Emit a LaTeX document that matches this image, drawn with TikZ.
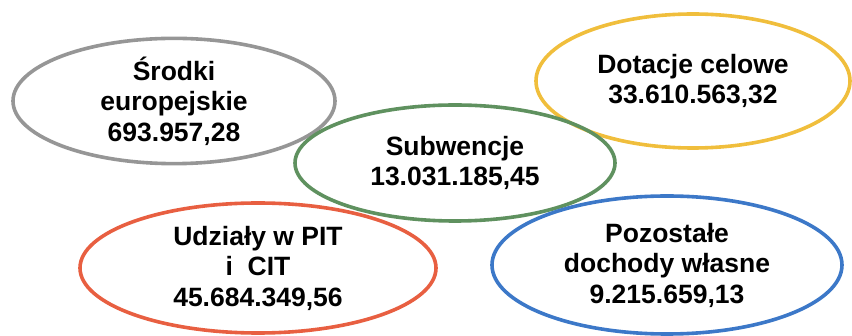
\documentclass[tikz,border=0pt]{standalone}
\usepackage{fontspec}
\setmainfont{Liberation Sans}
\usetikzlibrary{shapes.geometric}
\definecolor{srodkigray}{RGB}{150,150,150}
\definecolor{dotacjeyellow}{RGB}{240,190,60}
\definecolor{subwgreen}{RGB}{95,145,95}
\definecolor{udzialred}{RGB}{232,95,65}
\definecolor{pozostblue}{RGB}{60,120,200}

\begin{document}
\begin{tikzpicture}[x=1pt, y=-1pt,
    income/.style={ellipse, line width=3.6pt, inner sep=0pt, align=center,
        font=\fontsize{26.5}{30.5}\selectfont\bfseries}]
                % Page frame
                \useasboundingbox (0,0) rectangle (852,336);
                
                % Revenue sources
                \node[income, draw=srodkigray, minimum width=322, minimum height=122] (srodki) at (174,101) {Środki\\europejskie\\693.957,28};
                \node[income, draw=dotacjeyellow, minimum width=314, minimum height=134] (dotacje) at (693,81) {Dotacje celowe\\33.610.563,32};
                \node[income, draw=subwgreen, minimum width=320, minimum height=116] (subwencje) at (455,163) {Subwencje\\13.031.185,45};
                \node[income, draw=udzialred, minimum width=356, minimum height=130] (udzialy) at (258,268) {Udziały w PIT\\i\ \ CIT\\45.684.349,56};
                \node[income, draw=pozostblue, minimum width=350, minimum height=138] (pozostale) at (667,265) {Pozostałe\\dochody własne\\9.215.659,13};
            \end{tikzpicture}
\end{document}
